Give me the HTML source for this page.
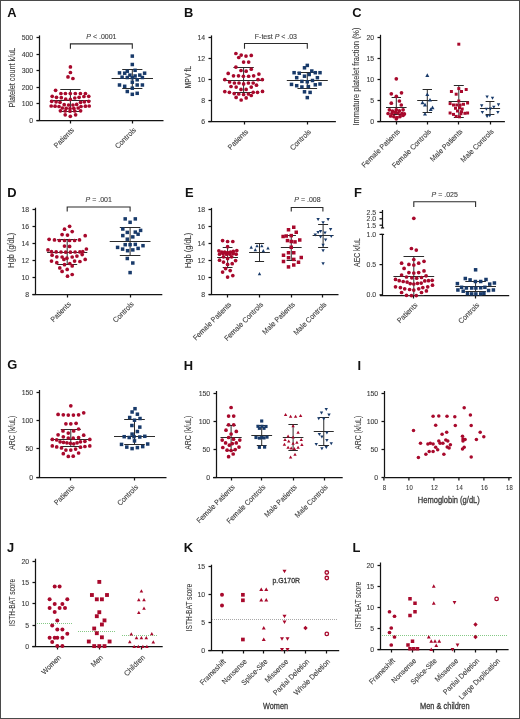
<!DOCTYPE html>
<html><head><meta charset="utf-8"><style>
html,body{margin:0;padding:0;background:#fff;}
body{width:520px;height:719px;overflow:hidden;}
svg{display:block;}
text{font-family:"Liberation Sans",sans-serif;}
.tk{fill:#3a3a3a;stroke:#3a3a3a;stroke-width:0.1px;}
.cd{stroke-width:0.32px;}
.let{font-weight:bold;font-size:12.9px;fill:#111;}
.ax{stroke:#121212;stroke-width:1.25;fill:none;}
.br{stroke:#2a2a2a;stroke-width:1.1;fill:none;}
.eb{stroke-width:1;fill:none;}
</style></head><body>
<svg width="520" height="719" viewBox="0 0 520 719">
<rect x="0.5" y="0.5" width="519" height="718" fill="#fff" stroke="#4a4a4a" stroke-width="1"/>
<g opacity="0.995"><text x="7.3" y="17.4" class="let">A</text>
<line x1="39.5" y1="35.4" x2="39.5" y2="120.1" class="ax"/>
<line x1="36.5" y1="120.5" x2="39.5" y2="120.5" class="ax"/>
<text x="33.2" y="122.5" class="tk" text-anchor="end" font-size="6.9">0</text>
<line x1="36.5" y1="103.5" x2="39.5" y2="103.5" class="ax"/>
<text x="33.2" y="106.05" class="tk" text-anchor="end" font-size="6.9">100</text>
<line x1="36.5" y1="87.5" x2="39.5" y2="87.5" class="ax"/>
<text x="33.2" y="89.6" class="tk" text-anchor="end" font-size="6.9">200</text>
<line x1="36.5" y1="70.5" x2="39.5" y2="70.5" class="ax"/>
<text x="33.2" y="73.15" class="tk" text-anchor="end" font-size="6.9">300</text>
<line x1="36.5" y1="54.5" x2="39.5" y2="54.5" class="ax"/>
<text x="33.2" y="56.7" class="tk" text-anchor="end" font-size="6.9">400</text>
<line x1="36.5" y1="37.5" x2="39.5" y2="37.5" class="ax"/>
<text x="33.2" y="40.25" class="tk" text-anchor="end" font-size="6.9">500</text>
<line x1="36.5" y1="120.5" x2="163.5" y2="120.5" class="ax"/>
<line x1="70.5" y1="120.5" x2="70.5" y2="123.5" class="ax"/>
<line x1="132.5" y1="120.5" x2="132.5" y2="123.5" class="ax"/>
<text transform="translate(74.6,130.5) rotate(-45)" text-anchor="end" class="tk" font-size="7.4" textLength="25.4" lengthAdjust="spacingAndGlyphs">Patients</text>
<text transform="translate(136.5,130.5) rotate(-45)" text-anchor="end" class="tk" font-size="7.4" textLength="26.18" lengthAdjust="spacingAndGlyphs">Controls</text>
<text transform="translate(15,77.6) rotate(-90)" text-anchor="middle" class="tk" font-size="8.2" textLength="60" lengthAdjust="spacingAndGlyphs">Platelet count k/uL</text>
<path d="M70.4 48.7V43.9H132.3V48.7" class="br"/>
<text x="101.4" y="38.8" text-anchor="middle" class="tk" font-size="7"><tspan font-style="italic">P</tspan> &lt; .0001</text>
<text x="184" y="17.4" class="let">B</text>
<line x1="211.5" y1="35.4" x2="211.5" y2="121.8" class="ax"/>
<line x1="208.5" y1="121.5" x2="211.5" y2="121.5" class="ax"/>
<text x="205.2" y="124.2" class="tk" text-anchor="end" font-size="6.9">6</text>
<line x1="208.5" y1="100.5" x2="211.5" y2="100.5" class="ax"/>
<text x="205.2" y="103.1" class="tk" text-anchor="end" font-size="6.9">8</text>
<line x1="208.5" y1="79.5" x2="211.5" y2="79.5" class="ax"/>
<text x="205.2" y="82" class="tk" text-anchor="end" font-size="6.9">10</text>
<line x1="208.5" y1="58.5" x2="211.5" y2="58.5" class="ax"/>
<text x="205.2" y="60.9" class="tk" text-anchor="end" font-size="6.9">12</text>
<line x1="208.5" y1="37.5" x2="211.5" y2="37.5" class="ax"/>
<text x="205.2" y="39.8" class="tk" text-anchor="end" font-size="6.9">14</text>
<line x1="208.3" y1="121.5" x2="335.9" y2="121.5" class="ax"/>
<line x1="244.5" y1="121.5" x2="244.5" y2="124.5" class="ax"/>
<line x1="307.5" y1="121.5" x2="307.5" y2="124.5" class="ax"/>
<text transform="translate(248.7,132.2) rotate(-45)" text-anchor="end" class="tk" font-size="7.4" textLength="25.4" lengthAdjust="spacingAndGlyphs">Patients</text>
<text transform="translate(311.5,132.2) rotate(-45)" text-anchor="end" class="tk" font-size="7.4" textLength="26.18" lengthAdjust="spacingAndGlyphs">Controls</text>
<text transform="translate(191.2,77.1) rotate(-90)" text-anchor="middle" class="tk" font-size="8.2" textLength="22.6" lengthAdjust="spacingAndGlyphs">MPV fL</text>
<path d="M244.5 48.8V43.5H307.3V48.8" class="br"/>
<text x="275.9" y="38.8" text-anchor="middle" class="tk" font-size="7">F-test <tspan font-style="italic">P</tspan> &lt; .03</text>
<text x="352.3" y="17.4" class="let">C</text>
<line x1="380.5" y1="34.8" x2="380.5" y2="121.6" class="ax"/>
<line x1="377.5" y1="121.5" x2="380.5" y2="121.5" class="ax"/>
<text x="374.2" y="124" class="tk" text-anchor="end" font-size="6.9">0</text>
<line x1="377.5" y1="100.5" x2="380.5" y2="100.5" class="ax"/>
<text x="374.2" y="102.92" class="tk" text-anchor="end" font-size="6.9">5</text>
<line x1="377.5" y1="79.5" x2="380.5" y2="79.5" class="ax"/>
<text x="374.2" y="81.85" class="tk" text-anchor="end" font-size="6.9">10</text>
<line x1="377.5" y1="58.5" x2="380.5" y2="58.5" class="ax"/>
<text x="374.2" y="60.77" class="tk" text-anchor="end" font-size="6.9">15</text>
<line x1="377.5" y1="37.5" x2="380.5" y2="37.5" class="ax"/>
<text x="374.2" y="39.7" class="tk" text-anchor="end" font-size="6.9">20</text>
<line x1="377.4" y1="121.5" x2="504.9" y2="121.5" class="ax"/>
<line x1="396.5" y1="121.5" x2="396.5" y2="124.5" class="ax"/>
<line x1="427.5" y1="121.5" x2="427.5" y2="124.5" class="ax"/>
<line x1="458.5" y1="121.5" x2="458.5" y2="124.5" class="ax"/>
<line x1="490.5" y1="121.5" x2="490.5" y2="124.5" class="ax"/>
<text transform="translate(400.5,132) rotate(-45)" text-anchor="end" class="tk" font-size="7.4" textLength="50.8" lengthAdjust="spacingAndGlyphs">Female Patients</text>
<text transform="translate(431.5,132) rotate(-45)" text-anchor="end" class="tk" font-size="7.4" textLength="51.57" lengthAdjust="spacingAndGlyphs">Female Controls</text>
<text transform="translate(463,132) rotate(-45)" text-anchor="end" class="tk" font-size="7.4" textLength="42.59" lengthAdjust="spacingAndGlyphs">Male Patients</text>
<text transform="translate(494.2,132) rotate(-45)" text-anchor="end" class="tk" font-size="7.4" textLength="43.37" lengthAdjust="spacingAndGlyphs">Male Controls</text>
<text transform="translate(359.2,76.5) rotate(-90)" text-anchor="middle" class="tk" font-size="8.2" textLength="98" lengthAdjust="spacingAndGlyphs">Immature platelet fraction (%)</text>
<text x="7.3" y="196.5" class="let">D</text>
<line x1="35.5" y1="207.7" x2="35.5" y2="294.2" class="ax"/>
<line x1="32.5" y1="294.5" x2="35.5" y2="294.5" class="ax"/>
<text x="29.2" y="296.6" class="tk" text-anchor="end" font-size="6.9">8</text>
<line x1="32.5" y1="277.5" x2="35.5" y2="277.5" class="ax"/>
<text x="29.2" y="279.66" class="tk" text-anchor="end" font-size="6.9">10</text>
<line x1="32.5" y1="260.5" x2="35.5" y2="260.5" class="ax"/>
<text x="29.2" y="262.72" class="tk" text-anchor="end" font-size="6.9">12</text>
<line x1="32.5" y1="243.5" x2="35.5" y2="243.5" class="ax"/>
<text x="29.2" y="245.78" class="tk" text-anchor="end" font-size="6.9">14</text>
<line x1="32.5" y1="226.5" x2="35.5" y2="226.5" class="ax"/>
<text x="29.2" y="228.84" class="tk" text-anchor="end" font-size="6.9">16</text>
<line x1="32.5" y1="209.5" x2="35.5" y2="209.5" class="ax"/>
<text x="29.2" y="211.9" class="tk" text-anchor="end" font-size="6.9">18</text>
<line x1="32.4" y1="294.5" x2="162.3" y2="294.5" class="ax"/>
<line x1="67.5" y1="294.5" x2="67.5" y2="297.5" class="ax"/>
<line x1="130.5" y1="294.5" x2="130.5" y2="297.5" class="ax"/>
<text transform="translate(71.4,304.6) rotate(-45)" text-anchor="end" class="tk" font-size="7.4" textLength="25.4" lengthAdjust="spacingAndGlyphs">Patients</text>
<text transform="translate(134.3,304.6) rotate(-45)" text-anchor="end" class="tk" font-size="7.4" textLength="26.18" lengthAdjust="spacingAndGlyphs">Controls</text>
<text transform="translate(14.4,250.2) rotate(-90)" text-anchor="middle" class="tk" font-size="8.2" textLength="35" lengthAdjust="spacingAndGlyphs">Hgb (g/dL)</text>
<path d="M67.2 211.5V207H130.1V211.5" class="br"/>
<text x="98.7" y="201.5" text-anchor="middle" class="tk" font-size="7"><tspan font-style="italic">P</tspan> = .001</text>
<text x="184.9" y="196.7" class="let">E</text>
<line x1="211.5" y1="207.9" x2="211.5" y2="294.5" class="ax"/>
<line x1="208.5" y1="294.5" x2="211.5" y2="294.5" class="ax"/>
<text x="205.2" y="296.9" class="tk" text-anchor="end" font-size="6.9">8</text>
<line x1="208.5" y1="277.5" x2="211.5" y2="277.5" class="ax"/>
<text x="205.2" y="279.94" class="tk" text-anchor="end" font-size="6.9">10</text>
<line x1="208.5" y1="260.5" x2="211.5" y2="260.5" class="ax"/>
<text x="205.2" y="262.98" class="tk" text-anchor="end" font-size="6.9">12</text>
<line x1="208.5" y1="243.5" x2="211.5" y2="243.5" class="ax"/>
<text x="205.2" y="246.02" class="tk" text-anchor="end" font-size="6.9">14</text>
<line x1="208.5" y1="226.5" x2="211.5" y2="226.5" class="ax"/>
<text x="205.2" y="229.06" class="tk" text-anchor="end" font-size="6.9">16</text>
<line x1="208.5" y1="209.5" x2="211.5" y2="209.5" class="ax"/>
<text x="205.2" y="212.1" class="tk" text-anchor="end" font-size="6.9">18</text>
<line x1="208.7" y1="294.5" x2="338.5" y2="294.5" class="ax"/>
<line x1="227.5" y1="294.5" x2="227.5" y2="297.5" class="ax"/>
<line x1="259.5" y1="294.5" x2="259.5" y2="297.5" class="ax"/>
<line x1="291.5" y1="294.5" x2="291.5" y2="297.5" class="ax"/>
<line x1="322.5" y1="294.5" x2="322.5" y2="297.5" class="ax"/>
<text transform="translate(231.8,304.9) rotate(-45)" text-anchor="end" class="tk" font-size="7.4" textLength="50.8" lengthAdjust="spacingAndGlyphs">Female Patients</text>
<text transform="translate(263.7,304.9) rotate(-45)" text-anchor="end" class="tk" font-size="7.4" textLength="51.57" lengthAdjust="spacingAndGlyphs">Female Controls</text>
<text transform="translate(295.45,304.9) rotate(-45)" text-anchor="end" class="tk" font-size="7.4" textLength="42.59" lengthAdjust="spacingAndGlyphs">Male Patients</text>
<text transform="translate(327.1,304.9) rotate(-45)" text-anchor="end" class="tk" font-size="7.4" textLength="43.37" lengthAdjust="spacingAndGlyphs">Male Controls</text>
<text transform="translate(191,250.4) rotate(-90)" text-anchor="middle" class="tk" font-size="8.2" textLength="35.3" lengthAdjust="spacingAndGlyphs">Hgb (g/dL)</text>
<path d="M291.25 211.5V207.5H322.9V211.5" class="br"/>
<text x="307.5" y="201.5" text-anchor="middle" class="tk" font-size="7"><tspan font-style="italic">P</tspan> = .008</text>
<text x="354" y="196.6" class="let">F</text>
<line x1="382.5" y1="210" x2="382.5" y2="227.9" class="ax"/>
<line x1="382.5" y1="234.4" x2="382.5" y2="295.4" class="ax"/>
<line x1="380.9" y1="227.9" x2="384.1" y2="227.9" class="ax"/>
<line x1="381.1" y1="234.4" x2="384.1" y2="234.4" class="ax"/>
<line x1="379.5" y1="212.4" x2="382.5" y2="212.4" class="ax"/>
<text x="376.2" y="214.8" class="tk" text-anchor="end" font-size="6.9">2.5</text>
<line x1="379.5" y1="218.8" x2="382.5" y2="218.8" class="ax"/>
<text x="376.2" y="221.2" class="tk" text-anchor="end" font-size="6.9">2.0</text>
<line x1="379.5" y1="225.2" x2="382.5" y2="225.2" class="ax"/>
<text x="376.2" y="227.6" class="tk" text-anchor="end" font-size="6.9">1.5</text>
<line x1="379.5" y1="234.4" x2="382.5" y2="234.4" class="ax"/>
<text x="376.2" y="236.8" class="tk" text-anchor="end" font-size="6.9">1.0</text>
<line x1="379.5" y1="264.6" x2="382.5" y2="264.6" class="ax"/>
<text x="376.2" y="267" class="tk" text-anchor="end" font-size="6.9">0.5</text>
<line x1="379.5" y1="294.8" x2="382.5" y2="294.8" class="ax"/>
<text x="376.2" y="297.2" class="tk" text-anchor="end" font-size="6.9">0.0</text>
<line x1="379.9" y1="295.5" x2="509.2" y2="295.5" class="ax"/>
<line x1="413.5" y1="295.5" x2="413.5" y2="298.5" class="ax"/>
<line x1="475.5" y1="295.5" x2="475.5" y2="298.5" class="ax"/>
<text transform="translate(418,305.6) rotate(-45)" text-anchor="end" class="tk" font-size="7.4" textLength="25.4" lengthAdjust="spacingAndGlyphs">Patients</text>
<text transform="translate(479.8,305.6) rotate(-45)" text-anchor="end" class="tk" font-size="7.4" textLength="26.18" lengthAdjust="spacingAndGlyphs">Controls</text>
<text transform="translate(360.3,252.5) rotate(-90)" text-anchor="middle" class="tk" font-size="8.2" textLength="28.8" lengthAdjust="spacingAndGlyphs">AEC k/uL</text>
<path d="M413.8 207V201.8H475.6V207" class="br"/>
<text x="444.7" y="197" text-anchor="middle" class="tk" font-size="7"><tspan font-style="italic">P</tspan> = .025</text>
<text x="7.3" y="369.4" class="let">G</text>
<line x1="39.5" y1="390" x2="39.5" y2="477.2" class="ax"/>
<line x1="36.5" y1="477.5" x2="39.5" y2="477.5" class="ax"/>
<text x="33.2" y="479.6" class="tk" text-anchor="end" font-size="6.9">0</text>
<line x1="36.5" y1="448.5" x2="39.5" y2="448.5" class="ax"/>
<text x="33.2" y="451.3" class="tk" text-anchor="end" font-size="6.9">50</text>
<line x1="36.5" y1="420.5" x2="39.5" y2="420.5" class="ax"/>
<text x="33.2" y="423" class="tk" text-anchor="end" font-size="6.9">100</text>
<line x1="36.5" y1="392.5" x2="39.5" y2="392.5" class="ax"/>
<text x="33.2" y="394.7" class="tk" text-anchor="end" font-size="6.9">150</text>
<line x1="36.4" y1="477.5" x2="166.5" y2="477.5" class="ax"/>
<line x1="70.5" y1="477.5" x2="70.5" y2="480.5" class="ax"/>
<line x1="134.5" y1="477.5" x2="134.5" y2="480.5" class="ax"/>
<text transform="translate(75,487.6) rotate(-45)" text-anchor="end" class="tk" font-size="7.4" textLength="25.4" lengthAdjust="spacingAndGlyphs">Patients</text>
<text transform="translate(138.7,487.6) rotate(-45)" text-anchor="end" class="tk" font-size="7.4" textLength="26.18" lengthAdjust="spacingAndGlyphs">Controls</text>
<text transform="translate(15.3,432.8) rotate(-90)" text-anchor="middle" class="tk" font-size="8.2" textLength="34" lengthAdjust="spacingAndGlyphs">ARC (k/uL)</text>
<text x="183.7" y="369.5" class="let">H</text>
<line x1="216.5" y1="391" x2="216.5" y2="477.2" class="ax"/>
<line x1="213.5" y1="477.5" x2="216.5" y2="477.5" class="ax"/>
<text x="210.2" y="479.6" class="tk" text-anchor="end" font-size="6.9">0</text>
<line x1="213.5" y1="449.5" x2="216.5" y2="449.5" class="ax"/>
<text x="210.2" y="451.57" class="tk" text-anchor="end" font-size="6.9">50</text>
<line x1="213.5" y1="421.5" x2="216.5" y2="421.5" class="ax"/>
<text x="210.2" y="423.53" class="tk" text-anchor="end" font-size="6.9">100</text>
<line x1="213.5" y1="393.5" x2="216.5" y2="393.5" class="ax"/>
<text x="210.2" y="395.5" class="tk" text-anchor="end" font-size="6.9">150</text>
<line x1="213" y1="477.5" x2="342.7" y2="477.5" class="ax"/>
<line x1="231.5" y1="477.5" x2="231.5" y2="480.5" class="ax"/>
<line x1="261.5" y1="477.5" x2="261.5" y2="480.5" class="ax"/>
<line x1="293.5" y1="477.5" x2="293.5" y2="480.5" class="ax"/>
<line x1="324.5" y1="477.5" x2="324.5" y2="480.5" class="ax"/>
<text transform="translate(235.3,487.6) rotate(-45)" text-anchor="end" class="tk" font-size="7.4" textLength="50.8" lengthAdjust="spacingAndGlyphs">Female Patients</text>
<text transform="translate(265.9,487.6) rotate(-45)" text-anchor="end" class="tk" font-size="7.4" textLength="51.57" lengthAdjust="spacingAndGlyphs">Female Controls</text>
<text transform="translate(297.3,487.6) rotate(-45)" text-anchor="end" class="tk" font-size="7.4" textLength="42.59" lengthAdjust="spacingAndGlyphs">Male Patients</text>
<text transform="translate(328.3,487.6) rotate(-45)" text-anchor="end" class="tk" font-size="7.4" textLength="43.37" lengthAdjust="spacingAndGlyphs">Male Controls</text>
<text transform="translate(191.4,432.8) rotate(-90)" text-anchor="middle" class="tk" font-size="8.2" textLength="34" lengthAdjust="spacingAndGlyphs">ARC (k/uL)</text>
<text x="357.4" y="369.5" class="let">I</text>
<line x1="384.5" y1="391" x2="384.5" y2="477.2" class="ax"/>
<line x1="381.5" y1="477.5" x2="384.5" y2="477.5" class="ax"/>
<text x="378.2" y="479.6" class="tk" text-anchor="end" font-size="6.9">0</text>
<line x1="381.5" y1="449.5" x2="384.5" y2="449.5" class="ax"/>
<text x="378.2" y="451.57" class="tk" text-anchor="end" font-size="6.9">50</text>
<line x1="381.5" y1="421.5" x2="384.5" y2="421.5" class="ax"/>
<text x="378.2" y="423.53" class="tk" text-anchor="end" font-size="6.9">100</text>
<line x1="381.5" y1="393.5" x2="384.5" y2="393.5" class="ax"/>
<text x="378.2" y="395.5" class="tk" text-anchor="end" font-size="6.9">150</text>
<line x1="384.5" y1="477.5" x2="511.8" y2="477.5" class="ax"/>
<line x1="383.9" y1="477.5" x2="383.9" y2="480.5" class="ax"/>
<text x="384.4" y="489.6" class="tk" text-anchor="middle" font-size="6.6" textLength="3.4" lengthAdjust="spacingAndGlyphs">8</text>
<line x1="408.9" y1="477.5" x2="408.9" y2="480.5" class="ax"/>
<text x="409.4" y="489.6" class="tk" text-anchor="middle" font-size="6.6" textLength="6.6" lengthAdjust="spacingAndGlyphs">10</text>
<line x1="433.9" y1="477.5" x2="433.9" y2="480.5" class="ax"/>
<text x="434.4" y="489.6" class="tk" text-anchor="middle" font-size="6.6" textLength="6.6" lengthAdjust="spacingAndGlyphs">12</text>
<line x1="458.9" y1="477.5" x2="458.9" y2="480.5" class="ax"/>
<text x="459.4" y="489.6" class="tk" text-anchor="middle" font-size="6.6" textLength="6.6" lengthAdjust="spacingAndGlyphs">14</text>
<line x1="483.9" y1="477.5" x2="483.9" y2="480.5" class="ax"/>
<text x="484.4" y="489.6" class="tk" text-anchor="middle" font-size="6.6" textLength="6.6" lengthAdjust="spacingAndGlyphs">16</text>
<line x1="508.9" y1="477.5" x2="508.9" y2="480.5" class="ax"/>
<text x="509.4" y="489.6" class="tk" text-anchor="middle" font-size="6.6" textLength="6.6" lengthAdjust="spacingAndGlyphs">18</text>
<text x="448.8" y="503.2" class="tk cd" text-anchor="middle" font-size="9.4" textLength="62" lengthAdjust="spacingAndGlyphs">Hemoglobin (g/dL)</text>
<text transform="translate(360.5,432.8) rotate(-90)" text-anchor="middle" class="tk" font-size="8.2" textLength="34" lengthAdjust="spacingAndGlyphs">ARC (k/uL)</text>
<text x="7" y="552" class="let">J</text>
<line x1="35.5" y1="558.7" x2="35.5" y2="646.4" class="ax"/>
<line x1="32.5" y1="646.5" x2="35.5" y2="646.5" class="ax"/>
<text x="29.2" y="648.8" class="tk" text-anchor="end" font-size="6.9">0</text>
<line x1="32.5" y1="625.5" x2="35.5" y2="625.5" class="ax"/>
<text x="29.2" y="627.52" class="tk" text-anchor="end" font-size="6.9">5</text>
<line x1="32.5" y1="603.5" x2="35.5" y2="603.5" class="ax"/>
<text x="29.2" y="606.25" class="tk" text-anchor="end" font-size="6.9">10</text>
<line x1="32.5" y1="582.5" x2="35.5" y2="582.5" class="ax"/>
<text x="29.2" y="584.97" class="tk" text-anchor="end" font-size="6.9">15</text>
<line x1="32.5" y1="561.5" x2="35.5" y2="561.5" class="ax"/>
<text x="29.2" y="563.7" class="tk" text-anchor="end" font-size="6.9">20</text>
<line x1="32.2" y1="646.5" x2="162.7" y2="646.5" class="ax"/>
<line x1="57.5" y1="646.5" x2="57.5" y2="649.5" class="ax"/>
<line x1="99.5" y1="646.5" x2="99.5" y2="649.5" class="ax"/>
<line x1="141.5" y1="646.5" x2="141.5" y2="649.5" class="ax"/>
<text transform="translate(61.5,657.9) rotate(-45)" text-anchor="end" class="tk" font-size="7.4" textLength="24.09" lengthAdjust="spacingAndGlyphs">Women</text>
<text transform="translate(103.5,657.9) rotate(-45)" text-anchor="end" class="tk" font-size="7.4" textLength="13.68" lengthAdjust="spacingAndGlyphs">Men</text>
<text transform="translate(145.4,657.9) rotate(-45)" text-anchor="end" class="tk" font-size="7.4" textLength="26.18" lengthAdjust="spacingAndGlyphs">Children</text>
<text transform="translate(15.3,602.4) rotate(-90)" text-anchor="middle" class="tk" font-size="8.2" textLength="47.2" lengthAdjust="spacingAndGlyphs">ISTH-BAT score</text>
<text x="183.7" y="552" class="let">K</text>
<line x1="211.5" y1="564.7" x2="211.5" y2="650.5" class="ax"/>
<line x1="208.5" y1="650.5" x2="211.5" y2="650.5" class="ax"/>
<text x="205.2" y="652.9" class="tk" text-anchor="end" font-size="6.9">0</text>
<line x1="208.5" y1="622.5" x2="211.5" y2="622.5" class="ax"/>
<text x="205.2" y="624.93" class="tk" text-anchor="end" font-size="6.9">5</text>
<line x1="208.5" y1="594.5" x2="211.5" y2="594.5" class="ax"/>
<text x="205.2" y="596.97" class="tk" text-anchor="end" font-size="6.9">10</text>
<line x1="208.5" y1="566.5" x2="211.5" y2="566.5" class="ax"/>
<text x="205.2" y="569" class="tk" text-anchor="end" font-size="6.9">15</text>
<line x1="208.3" y1="650.5" x2="339.2" y2="650.5" class="ax"/>
<line x1="222.5" y1="650.5" x2="222.5" y2="653.5" class="ax"/>
<line x1="243.5" y1="650.5" x2="243.5" y2="653.5" class="ax"/>
<line x1="263.5" y1="650.5" x2="263.5" y2="653.5" class="ax"/>
<line x1="284.5" y1="650.5" x2="284.5" y2="653.5" class="ax"/>
<line x1="305.5" y1="650.5" x2="305.5" y2="653.5" class="ax"/>
<line x1="326.5" y1="650.5" x2="326.5" y2="653.5" class="ax"/>
<text transform="translate(226.2,662.1) rotate(-45)" text-anchor="end" class="tk" font-size="7.4" textLength="33.2" lengthAdjust="spacingAndGlyphs">Frameshift</text>
<text transform="translate(247.2,662.1) rotate(-45)" text-anchor="end" class="tk" font-size="7.4" textLength="31.66" lengthAdjust="spacingAndGlyphs">Nonsense</text>
<text transform="translate(267.95,662.1) rotate(-45)" text-anchor="end" class="tk" font-size="7.4" textLength="33.6" lengthAdjust="spacingAndGlyphs">Splice-Site</text>
<text transform="translate(288.7,662.1) rotate(-45)" text-anchor="end" class="tk" font-size="7.4" textLength="29.69" lengthAdjust="spacingAndGlyphs">Missense</text>
<text transform="translate(309.7,662.1) rotate(-45)" text-anchor="end" class="tk" font-size="7.4" textLength="47.67" lengthAdjust="spacingAndGlyphs">Partial Deletion</text>
<text transform="translate(330.5,662.1) rotate(-45)" text-anchor="end" class="tk" font-size="7.4" textLength="47.67" lengthAdjust="spacingAndGlyphs">Whole Deletion</text>
<text transform="translate(192.3,607.5) rotate(-90)" text-anchor="middle" class="tk" font-size="8.2" textLength="47.5" lengthAdjust="spacingAndGlyphs">ISTH-BAT score</text>
<text x="275.5" y="709.2" class="tk cd" text-anchor="middle" font-size="9.4" textLength="25" lengthAdjust="spacingAndGlyphs">Women</text>
<text x="286.2" y="582.5" class="tk cd" text-anchor="middle" font-size="7.5" textLength="27.5" lengthAdjust="spacingAndGlyphs">p.G170R</text>
<text x="352.6" y="552.2" class="let">L</text>
<line x1="380.5" y1="562.5" x2="380.5" y2="649.6" class="ax"/>
<line x1="377.5" y1="649.5" x2="380.5" y2="649.5" class="ax"/>
<text x="374.2" y="652" class="tk" text-anchor="end" font-size="6.9">0</text>
<line x1="377.5" y1="628.5" x2="380.5" y2="628.5" class="ax"/>
<text x="374.2" y="630.92" class="tk" text-anchor="end" font-size="6.9">5</text>
<line x1="377.5" y1="607.5" x2="380.5" y2="607.5" class="ax"/>
<text x="374.2" y="609.85" class="tk" text-anchor="end" font-size="6.9">10</text>
<line x1="377.5" y1="586.5" x2="380.5" y2="586.5" class="ax"/>
<text x="374.2" y="588.77" class="tk" text-anchor="end" font-size="6.9">15</text>
<line x1="377.5" y1="565.5" x2="380.5" y2="565.5" class="ax"/>
<text x="374.2" y="567.7" class="tk" text-anchor="end" font-size="6.9">20</text>
<line x1="377.6" y1="649.5" x2="508.6" y2="649.5" class="ax"/>
<line x1="391.5" y1="649.5" x2="391.5" y2="652.5" class="ax"/>
<line x1="412.5" y1="649.5" x2="412.5" y2="652.5" class="ax"/>
<line x1="433.5" y1="649.5" x2="433.5" y2="652.5" class="ax"/>
<line x1="454.5" y1="649.5" x2="454.5" y2="652.5" class="ax"/>
<line x1="475.5" y1="649.5" x2="475.5" y2="652.5" class="ax"/>
<line x1="496.5" y1="649.5" x2="496.5" y2="652.5" class="ax"/>
<text transform="translate(395.45,661.2) rotate(-45)" text-anchor="end" class="tk" font-size="7.4" textLength="33.2" lengthAdjust="spacingAndGlyphs">Frameshift</text>
<text transform="translate(416.7,661.2) rotate(-45)" text-anchor="end" class="tk" font-size="7.4" textLength="31.66" lengthAdjust="spacingAndGlyphs">Nonsense</text>
<text transform="translate(437.2,661.2) rotate(-45)" text-anchor="end" class="tk" font-size="7.4" textLength="33.6" lengthAdjust="spacingAndGlyphs">Splice-Site</text>
<text transform="translate(458.7,661.2) rotate(-45)" text-anchor="end" class="tk" font-size="7.4" textLength="29.69" lengthAdjust="spacingAndGlyphs">Missense</text>
<text transform="translate(479.7,661.2) rotate(-45)" text-anchor="end" class="tk" font-size="7.4" textLength="47.67" lengthAdjust="spacingAndGlyphs">Partial Deletion</text>
<text transform="translate(500.5,661.2) rotate(-45)" text-anchor="end" class="tk" font-size="7.4" textLength="54.71" lengthAdjust="spacingAndGlyphs">Large Duplication</text>
<text transform="translate(360.5,605.6) rotate(-90)" text-anchor="middle" class="tk" font-size="8.2" textLength="47.6" lengthAdjust="spacingAndGlyphs">ISTH-BAT score</text>
<text x="444.8" y="709.2" class="tk cd" text-anchor="middle" font-size="9.4" textLength="49.5" lengthAdjust="spacingAndGlyphs">Men &amp; children</text>
<path d="M50.4 100.5H90.4M60.3 89.5H80.5M60.3 111.5H80.5M70.4 89.5V111.5" class="eb" stroke="#2a2a2a"/>
<path d="M111.6 78.5H153M122.2 69.5H142.4M122.2 88.5H142.4M132.3 69.5V88.5" class="eb" stroke="#2a2a2a"/>
<path d="M223.4 80.5H263.8M233.4 67.5H253.8M233.4 92.5H253.8M243.6 67.5V92.5" class="eb" stroke="#2a2a2a"/>
<path d="M286.8 80.5H327.8M297.5 72.5H317.1M297.5 88.5H317.1M307.3 72.5V88.5" class="eb" stroke="#2a2a2a"/>
<path d="M386 107.5H406.6M391.6 97.5H401M391.6 114.5H401M396.3 97.5V114.5" class="eb" stroke="#2a2a2a"/>
<path d="M417.2 100.5H437.4M422.6 89.5H432M422.6 112.5H432M427.3 89.5V112.5" class="eb" stroke="#2a2a2a"/>
<path d="M448.7 101.5H468.9M453.8 85.5H463.8M453.8 117.5H463.8M458.8 85.5V117.5" class="eb" stroke="#2a2a2a"/>
<path d="M479.9 108.5H500.1M485.6 101.5H494.4M485.6 114.5H494.4M490 101.5V114.5" class="eb" stroke="#2a2a2a"/>
<path d="M47.1 252.5H87.3M57.2 239.5H77.2M57.2 264.5H77.2M67.2 239.5V264.5" class="eb" stroke="#2a2a2a"/>
<path d="M109.7 241.5H150.5M119.8 227.5H140.4M119.8 255.5H140.4M130.1 227.5V255.5" class="eb" stroke="#2a2a2a"/>
<path d="M217.2 257.5H238M222.7 247.5H232.5M222.7 267.5H232.5M227.6 247.5V267.5" class="eb" stroke="#2a2a2a"/>
<path d="M249.1 252.5H269.9M254.9 243.5H264.1M254.9 261.5H264.1M259.5 243.5V261.5" class="eb" stroke="#2a2a2a"/>
<path d="M280.85 247.5H301.65M286.55 235.5H295.95M286.55 260.5H295.95M291.25 235.5V260.5" class="eb" stroke="#2a2a2a"/>
<path d="M312.6 235.5H333.6M318.1 224.5H328.1M318.1 247.5H328.1M323.1 224.5V247.5" class="eb" stroke="#2a2a2a"/>
<path d="M393.4 276.5H434.2M403.5 256.5H424.1M403.5 295.5H424.1M413.8 256.5V295.5" class="eb" stroke="#2a2a2a"/>
<path d="M455.2 286.5H496M465.3 281.5H485.9M465.3 291.5H485.9M475.6 281.5V291.5" class="eb" stroke="#2a2a2a"/>
<path d="M50.6 439.5H91M60.8 429.5H80.8M60.8 446.5H80.8M70.8 429.5V446.5" class="eb" stroke="#2a2a2a"/>
<path d="M114 436.5H155M124.2 419.5H144.8M124.2 444.5H144.8M134.5 419.5V444.5" class="eb" stroke="#2a2a2a"/>
<path d="M220.5 437.5H241.7M226.4 425.5H235.8M226.4 450.5H235.8M231.1 425.5V450.5" class="eb" stroke="#2a2a2a"/>
<path d="M251.3 435.5H272.1M256.8 425.5H266.6M256.8 445.5H266.6M261.7 425.5V445.5" class="eb" stroke="#2a2a2a"/>
<path d="M282.8 437.5H303.4M288.4 424.5H297.8M288.4 450.5H297.8M293.1 424.5V450.5" class="eb" stroke="#2a2a2a"/>
<path d="M313.75 431.5H333.75M318.45 417.5H329.05M318.45 445.5H329.05M323.75 417.5V445.5" class="eb" stroke="#2a2a2a"/>
<line x1="37" y1="623.5" x2="72.7" y2="623.5" stroke="#86c986" stroke-width="1" stroke-dasharray="1 1"/>
<line x1="78" y1="631.5" x2="116" y2="631.5" stroke="#86c986" stroke-width="1" stroke-dasharray="1 1"/>
<line x1="122" y1="635.5" x2="157.9" y2="635.5" stroke="#86c986" stroke-width="1" stroke-dasharray="1 1"/>
<line x1="212" y1="619.5" x2="337.6" y2="619.5" stroke="#a8a8a8" stroke-width="1" stroke-dasharray="1 1"/>
<line x1="382" y1="635.5" x2="507.5" y2="635.5" stroke="#86c986" stroke-width="1" stroke-dasharray="1 1"/></g>
<circle cx="70.4" cy="66.9" r="1.85" fill="#a8092c"/>
<circle cx="70.4" cy="72.5" r="1.85" fill="#a8092c"/>
<circle cx="68" cy="76.9" r="1.85" fill="#a8092c"/>
<circle cx="72.9" cy="78.5" r="1.85" fill="#a8092c"/>
<circle cx="55.6" cy="90.3" r="1.85" fill="#a8092c"/>
<circle cx="60.9" cy="93.5" r="1.85" fill="#a8092c"/>
<circle cx="65.4" cy="93.5" r="1.85" fill="#a8092c"/>
<circle cx="70.3" cy="93.5" r="1.85" fill="#a8092c"/>
<circle cx="75.3" cy="93.5" r="1.85" fill="#a8092c"/>
<circle cx="80.4" cy="93.5" r="1.85" fill="#a8092c"/>
<circle cx="85.4" cy="93.5" r="1.85" fill="#a8092c"/>
<circle cx="52.2" cy="96.3" r="1.85" fill="#a8092c"/>
<circle cx="56.5" cy="97.3" r="1.85" fill="#a8092c"/>
<circle cx="61.3" cy="97.7" r="1.85" fill="#a8092c"/>
<circle cx="65.7" cy="99.2" r="1.85" fill="#a8092c"/>
<circle cx="70.3" cy="99.4" r="1.85" fill="#a8092c"/>
<circle cx="74.8" cy="98" r="1.85" fill="#a8092c"/>
<circle cx="79.1" cy="97.3" r="1.85" fill="#a8092c"/>
<circle cx="83.9" cy="96.5" r="1.85" fill="#a8092c"/>
<circle cx="88.75" cy="96.3" r="1.85" fill="#a8092c"/>
<circle cx="51.7" cy="101.3" r="1.85" fill="#a8092c"/>
<circle cx="56.1" cy="101.8" r="1.85" fill="#a8092c"/>
<circle cx="60" cy="102.3" r="1.85" fill="#a8092c"/>
<circle cx="80.6" cy="102.3" r="1.85" fill="#a8092c"/>
<circle cx="84.4" cy="101.8" r="1.85" fill="#a8092c"/>
<circle cx="88.75" cy="101.3" r="1.85" fill="#a8092c"/>
<circle cx="64.2" cy="104.7" r="1.85" fill="#a8092c"/>
<circle cx="68.6" cy="105" r="1.85" fill="#a8092c"/>
<circle cx="72.9" cy="105" r="1.85" fill="#a8092c"/>
<circle cx="76.7" cy="104.4" r="1.85" fill="#a8092c"/>
<circle cx="51.2" cy="106" r="1.85" fill="#a8092c"/>
<circle cx="55.1" cy="106.2" r="1.85" fill="#a8092c"/>
<circle cx="59" cy="106.5" r="1.85" fill="#a8092c"/>
<circle cx="81" cy="106.5" r="1.85" fill="#a8092c"/>
<circle cx="85.4" cy="106.2" r="1.85" fill="#a8092c"/>
<circle cx="89.2" cy="106" r="1.85" fill="#a8092c"/>
<circle cx="62.3" cy="108" r="1.85" fill="#a8092c"/>
<circle cx="66.2" cy="108.3" r="1.85" fill="#a8092c"/>
<circle cx="70" cy="108.5" r="1.85" fill="#a8092c"/>
<circle cx="73.8" cy="108.3" r="1.85" fill="#a8092c"/>
<circle cx="78.2" cy="108" r="1.85" fill="#a8092c"/>
<circle cx="60.4" cy="110.8" r="1.85" fill="#a8092c"/>
<circle cx="65.2" cy="111" r="1.85" fill="#a8092c"/>
<circle cx="70" cy="111.2" r="1.85" fill="#a8092c"/>
<circle cx="74.8" cy="111" r="1.85" fill="#a8092c"/>
<circle cx="80.6" cy="110.8" r="1.85" fill="#a8092c"/>
<circle cx="65.2" cy="114.8" r="1.85" fill="#a8092c"/>
<circle cx="75.6" cy="114.8" r="1.85" fill="#a8092c"/>
<circle cx="70.3" cy="116.3" r="1.85" fill="#a8092c"/>
<rect x="130.55" y="54.35" width="3.5" height="3.5" fill="#183a6a"/>
<rect x="130.55" y="62.75" width="3.5" height="3.5" fill="#183a6a"/>
<rect x="133.35" y="68.55" width="3.5" height="3.5" fill="#183a6a"/>
<rect x="125.55" y="69.45" width="3.5" height="3.5" fill="#183a6a"/>
<rect x="117.75" y="71.15" width="3.5" height="3.5" fill="#183a6a"/>
<rect x="122.95" y="71.45" width="3.5" height="3.5" fill="#183a6a"/>
<rect x="142.85" y="71.45" width="3.5" height="3.5" fill="#183a6a"/>
<rect x="128.15" y="73.35" width="3.5" height="3.5" fill="#183a6a"/>
<rect x="133.35" y="74.25" width="3.5" height="3.5" fill="#183a6a"/>
<rect x="138.05" y="73.35" width="3.5" height="3.5" fill="#183a6a"/>
<rect x="120.35" y="75.45" width="3.5" height="3.5" fill="#183a6a"/>
<rect x="125.55" y="75.75" width="3.5" height="3.5" fill="#183a6a"/>
<rect x="130.55" y="75.95" width="3.5" height="3.5" fill="#183a6a"/>
<rect x="140.65" y="75.75" width="3.5" height="3.5" fill="#183a6a"/>
<rect x="135.45" y="78.05" width="3.5" height="3.5" fill="#183a6a"/>
<rect x="130.55" y="80.45" width="3.5" height="3.5" fill="#183a6a"/>
<rect x="117.75" y="83.25" width="3.5" height="3.5" fill="#183a6a"/>
<rect x="135.45" y="83.25" width="3.5" height="3.5" fill="#183a6a"/>
<rect x="140.65" y="83.25" width="3.5" height="3.5" fill="#183a6a"/>
<rect x="122.95" y="84.55" width="3.5" height="3.5" fill="#183a6a"/>
<rect x="130.55" y="86.45" width="3.5" height="3.5" fill="#183a6a"/>
<rect x="125.55" y="89.75" width="3.5" height="3.5" fill="#183a6a"/>
<rect x="130.55" y="92.55" width="3.5" height="3.5" fill="#183a6a"/>
<rect x="135.45" y="91.55" width="3.5" height="3.5" fill="#183a6a"/>
<circle cx="235.9" cy="53.5" r="1.85" fill="#a8092c"/>
<circle cx="241.2" cy="55.1" r="1.85" fill="#a8092c"/>
<circle cx="238.75" cy="57.5" r="1.85" fill="#a8092c"/>
<circle cx="246" cy="56.1" r="1.85" fill="#a8092c"/>
<circle cx="251.25" cy="55.4" r="1.85" fill="#a8092c"/>
<circle cx="243.6" cy="62.1" r="1.85" fill="#a8092c"/>
<circle cx="248.65" cy="62.1" r="1.85" fill="#a8092c"/>
<circle cx="235.9" cy="67.1" r="1.85" fill="#a8092c"/>
<circle cx="251.25" cy="69.2" r="1.85" fill="#a8092c"/>
<circle cx="241" cy="70.5" r="1.85" fill="#a8092c"/>
<circle cx="246.15" cy="71.2" r="1.85" fill="#a8092c"/>
<circle cx="228.2" cy="73.4" r="1.85" fill="#a8092c"/>
<circle cx="258.9" cy="74.1" r="1.85" fill="#a8092c"/>
<circle cx="233.5" cy="75.8" r="1.85" fill="#a8092c"/>
<circle cx="238.5" cy="75.8" r="1.85" fill="#a8092c"/>
<circle cx="243.4" cy="76.25" r="1.85" fill="#a8092c"/>
<circle cx="248.65" cy="76.25" r="1.85" fill="#a8092c"/>
<circle cx="253.65" cy="75.8" r="1.85" fill="#a8092c"/>
<circle cx="224.8" cy="79.6" r="1.85" fill="#a8092c"/>
<circle cx="258" cy="79.6" r="1.85" fill="#a8092c"/>
<circle cx="262.3" cy="79.6" r="1.85" fill="#a8092c"/>
<circle cx="229.6" cy="82" r="1.85" fill="#a8092c"/>
<circle cx="234.4" cy="83" r="1.85" fill="#a8092c"/>
<circle cx="239" cy="83" r="1.85" fill="#a8092c"/>
<circle cx="243.6" cy="83.9" r="1.85" fill="#a8092c"/>
<circle cx="248.4" cy="83" r="1.85" fill="#a8092c"/>
<circle cx="253.2" cy="83" r="1.85" fill="#a8092c"/>
<circle cx="256.5" cy="85.2" r="1.85" fill="#a8092c"/>
<circle cx="231" cy="86.5" r="1.85" fill="#a8092c"/>
<circle cx="236.15" cy="87.1" r="1.85" fill="#a8092c"/>
<circle cx="251.25" cy="87.1" r="1.85" fill="#a8092c"/>
<circle cx="241" cy="89.4" r="1.85" fill="#a8092c"/>
<circle cx="246.15" cy="89.4" r="1.85" fill="#a8092c"/>
<circle cx="224.8" cy="91.6" r="1.85" fill="#a8092c"/>
<circle cx="229.4" cy="92.3" r="1.85" fill="#a8092c"/>
<circle cx="234.2" cy="93.6" r="1.85" fill="#a8092c"/>
<circle cx="238.75" cy="94" r="1.85" fill="#a8092c"/>
<circle cx="243.6" cy="94.5" r="1.85" fill="#a8092c"/>
<circle cx="248.4" cy="94" r="1.85" fill="#a8092c"/>
<circle cx="253.2" cy="92.3" r="1.85" fill="#a8092c"/>
<circle cx="257.5" cy="92.3" r="1.85" fill="#a8092c"/>
<circle cx="262.5" cy="91.4" r="1.85" fill="#a8092c"/>
<circle cx="251.25" cy="95.5" r="1.85" fill="#a8092c"/>
<circle cx="236.15" cy="97.4" r="1.85" fill="#a8092c"/>
<circle cx="246.15" cy="97.9" r="1.85" fill="#a8092c"/>
<circle cx="241.15" cy="100" r="1.85" fill="#a8092c"/>
<rect x="305.55" y="63.65" width="3.5" height="3.5" fill="#183a6a"/>
<rect x="302.75" y="66.05" width="3.5" height="3.5" fill="#183a6a"/>
<rect x="292.35" y="70.95" width="3.5" height="3.5" fill="#183a6a"/>
<rect x="297.55" y="71.45" width="3.5" height="3.5" fill="#183a6a"/>
<rect x="310.05" y="69.25" width="3.5" height="3.5" fill="#183a6a"/>
<rect x="313.55" y="70.95" width="3.5" height="3.5" fill="#183a6a"/>
<rect x="318.25" y="70.95" width="3.5" height="3.5" fill="#183a6a"/>
<rect x="307.45" y="72.75" width="3.5" height="3.5" fill="#183a6a"/>
<rect x="302.75" y="74.45" width="3.5" height="3.5" fill="#183a6a"/>
<rect x="294.95" y="75.95" width="3.5" height="3.5" fill="#183a6a"/>
<rect x="315.65" y="75.95" width="3.5" height="3.5" fill="#183a6a"/>
<rect x="300.15" y="79.65" width="3.5" height="3.5" fill="#183a6a"/>
<rect x="305.55" y="80.05" width="3.5" height="3.5" fill="#183a6a"/>
<rect x="310.75" y="78.75" width="3.5" height="3.5" fill="#183a6a"/>
<rect x="289.75" y="82.65" width="3.5" height="3.5" fill="#183a6a"/>
<rect x="294.95" y="83.95" width="3.5" height="3.5" fill="#183a6a"/>
<rect x="300.15" y="85.25" width="3.5" height="3.5" fill="#183a6a"/>
<rect x="306.65" y="84.85" width="3.5" height="3.5" fill="#183a6a"/>
<rect x="313.55" y="83.05" width="3.5" height="3.5" fill="#183a6a"/>
<rect x="318.25" y="82.25" width="3.5" height="3.5" fill="#183a6a"/>
<rect x="302.75" y="90.05" width="3.5" height="3.5" fill="#183a6a"/>
<rect x="308.35" y="90.65" width="3.5" height="3.5" fill="#183a6a"/>
<rect x="305.55" y="95.85" width="3.5" height="3.5" fill="#183a6a"/>
<circle cx="396.3" cy="78.8" r="1.85" fill="#a8092c"/>
<circle cx="391.3" cy="93.8" r="1.85" fill="#a8092c"/>
<circle cx="401.5" cy="92.8" r="1.85" fill="#a8092c"/>
<circle cx="396.3" cy="96.3" r="1.85" fill="#a8092c"/>
<circle cx="399.4" cy="101" r="1.85" fill="#a8092c"/>
<circle cx="391.3" cy="103.2" r="1.85" fill="#a8092c"/>
<circle cx="401.3" cy="105" r="1.85" fill="#a8092c"/>
<circle cx="389.4" cy="109.8" r="1.85" fill="#a8092c"/>
<circle cx="392.5" cy="111" r="1.85" fill="#a8092c"/>
<circle cx="396.3" cy="109.8" r="1.85" fill="#a8092c"/>
<circle cx="399.4" cy="110.8" r="1.85" fill="#a8092c"/>
<circle cx="403.1" cy="109.8" r="1.85" fill="#a8092c"/>
<circle cx="388.1" cy="113.5" r="1.85" fill="#a8092c"/>
<circle cx="391.9" cy="113.5" r="1.85" fill="#a8092c"/>
<circle cx="395" cy="112.3" r="1.85" fill="#a8092c"/>
<circle cx="398.1" cy="113" r="1.85" fill="#a8092c"/>
<circle cx="401.9" cy="113.5" r="1.85" fill="#a8092c"/>
<circle cx="404.4" cy="113.9" r="1.85" fill="#a8092c"/>
<circle cx="390.6" cy="116" r="1.85" fill="#a8092c"/>
<circle cx="393.8" cy="116.6" r="1.85" fill="#a8092c"/>
<circle cx="396.9" cy="117.6" r="1.85" fill="#a8092c"/>
<circle cx="400" cy="116.6" r="1.85" fill="#a8092c"/>
<circle cx="403.1" cy="115.3" r="1.85" fill="#a8092c"/>
<circle cx="396.3" cy="118.8" r="1.85" fill="#a8092c"/>
<path d="M427.3 73.3L429.3 76.9L425.3 76.9Z" fill="#183a6a"/>
<path d="M427.3 92.4L429.3 96L425.3 96Z" fill="#183a6a"/>
<path d="M422.5 100.6L424.5 104.2L420.5 104.2Z" fill="#183a6a"/>
<path d="M430 98L432 101.6L428 101.6Z" fill="#183a6a"/>
<path d="M425 102.8L427 106.4L423 106.4Z" fill="#183a6a"/>
<path d="M432.5 105.6L434.5 109.2L430.5 109.2Z" fill="#183a6a"/>
<path d="M430.7 107.5L432.7 111.1L428.7 111.1Z" fill="#183a6a"/>
<path d="M425 112L427 115.6L423 115.6Z" fill="#183a6a"/>
<rect x="457.31" y="42.71" width="2.98" height="2.98" fill="#a8092c"/>
<rect x="457.31" y="87.11" width="2.98" height="2.98" fill="#a8092c"/>
<rect x="449.91" y="90.01" width="2.98" height="2.98" fill="#a8092c"/>
<rect x="460.01" y="90.01" width="2.98" height="2.98" fill="#a8092c"/>
<rect x="464.71" y="88.01" width="2.98" height="2.98" fill="#a8092c"/>
<rect x="454.71" y="92.71" width="2.98" height="2.98" fill="#a8092c"/>
<rect x="457.31" y="99.51" width="2.98" height="2.98" fill="#a8092c"/>
<rect x="448.61" y="102.11" width="2.98" height="2.98" fill="#a8092c"/>
<rect x="452.01" y="103.51" width="2.98" height="2.98" fill="#a8092c"/>
<rect x="455.31" y="103.51" width="2.98" height="2.98" fill="#a8092c"/>
<rect x="458.71" y="103.51" width="2.98" height="2.98" fill="#a8092c"/>
<rect x="462.01" y="102.81" width="2.98" height="2.98" fill="#a8092c"/>
<rect x="466.11" y="101.51" width="2.98" height="2.98" fill="#a8092c"/>
<rect x="454.01" y="106.81" width="2.98" height="2.98" fill="#a8092c"/>
<rect x="458.01" y="106.21" width="2.98" height="2.98" fill="#a8092c"/>
<rect x="460.71" y="107.51" width="2.98" height="2.98" fill="#a8092c"/>
<rect x="456.01" y="109.51" width="2.98" height="2.98" fill="#a8092c"/>
<rect x="460.01" y="110.21" width="2.98" height="2.98" fill="#a8092c"/>
<rect x="448.61" y="111.51" width="2.98" height="2.98" fill="#a8092c"/>
<rect x="452.01" y="112.91" width="2.98" height="2.98" fill="#a8092c"/>
<rect x="459.41" y="112.21" width="2.98" height="2.98" fill="#a8092c"/>
<rect x="463.41" y="111.81" width="2.98" height="2.98" fill="#a8092c"/>
<rect x="466.11" y="111.51" width="2.98" height="2.98" fill="#a8092c"/>
<rect x="454.71" y="114.91" width="2.98" height="2.98" fill="#a8092c"/>
<rect x="458.01" y="115.31" width="2.98" height="2.98" fill="#a8092c"/>
<path d="M487.1 98.6L488.8 95.54L485.4 95.54Z" fill="#183a6a"/>
<path d="M492.5 99.7L494.2 96.64L490.8 96.64Z" fill="#183a6a"/>
<path d="M481.7 107.4L483.4 104.34L480 104.34Z" fill="#183a6a"/>
<path d="M498.5 106.4L500.2 103.34L496.8 103.34Z" fill="#183a6a"/>
<path d="M493.8 108.7L495.5 105.64L492.1 105.64Z" fill="#183a6a"/>
<path d="M486.4 110.7L488.1 107.64L484.7 107.64Z" fill="#183a6a"/>
<path d="M490.5 110.5L492.2 107.44L488.8 107.44Z" fill="#183a6a"/>
<path d="M482.4 114.1L484.1 111.04L480.7 111.04Z" fill="#183a6a"/>
<path d="M497.9 114.1L499.6 111.04L496.2 111.04Z" fill="#183a6a"/>
<path d="M487.1 118.1L488.8 115.04L485.4 115.04Z" fill="#183a6a"/>
<path d="M489.8 117.2L491.5 114.14L488.1 114.14Z" fill="#183a6a"/>
<circle cx="69.6" cy="226.3" r="1.85" fill="#a8092c"/>
<circle cx="64.5" cy="229.2" r="1.85" fill="#a8092c"/>
<circle cx="72.2" cy="231.6" r="1.85" fill="#a8092c"/>
<circle cx="62.1" cy="234.6" r="1.85" fill="#a8092c"/>
<circle cx="67.5" cy="235.1" r="1.85" fill="#a8092c"/>
<circle cx="85.2" cy="235.7" r="1.85" fill="#a8092c"/>
<circle cx="49.1" cy="239.3" r="1.85" fill="#a8092c"/>
<circle cx="54.5" cy="239.9" r="1.85" fill="#a8092c"/>
<circle cx="59.4" cy="240.5" r="1.85" fill="#a8092c"/>
<circle cx="64.5" cy="240.5" r="1.85" fill="#a8092c"/>
<circle cx="69.6" cy="240.5" r="1.85" fill="#a8092c"/>
<circle cx="74.6" cy="240.5" r="1.85" fill="#a8092c"/>
<circle cx="79.5" cy="239.9" r="1.85" fill="#a8092c"/>
<circle cx="64.5" cy="246.1" r="1.85" fill="#a8092c"/>
<circle cx="69.6" cy="246.4" r="1.85" fill="#a8092c"/>
<circle cx="48" cy="249.9" r="1.85" fill="#a8092c"/>
<circle cx="86.4" cy="249" r="1.85" fill="#a8092c"/>
<circle cx="51.5" cy="251.7" r="1.85" fill="#a8092c"/>
<circle cx="56.2" cy="251.9" r="1.85" fill="#a8092c"/>
<circle cx="61" cy="252" r="1.85" fill="#a8092c"/>
<circle cx="65.7" cy="252.2" r="1.85" fill="#a8092c"/>
<circle cx="70.4" cy="252.2" r="1.85" fill="#a8092c"/>
<circle cx="75.1" cy="252" r="1.85" fill="#a8092c"/>
<circle cx="79.9" cy="251.9" r="1.85" fill="#a8092c"/>
<circle cx="82.8" cy="251.7" r="1.85" fill="#a8092c"/>
<circle cx="52.1" cy="255.2" r="1.85" fill="#a8092c"/>
<circle cx="56.8" cy="256.8" r="1.85" fill="#a8092c"/>
<circle cx="62.1" cy="257" r="1.85" fill="#a8092c"/>
<circle cx="66.9" cy="258.2" r="1.85" fill="#a8092c"/>
<circle cx="72.2" cy="257" r="1.85" fill="#a8092c"/>
<circle cx="76.9" cy="256.1" r="1.85" fill="#a8092c"/>
<circle cx="82.2" cy="254.6" r="1.85" fill="#a8092c"/>
<circle cx="63.9" cy="259.4" r="1.85" fill="#a8092c"/>
<circle cx="51.5" cy="261.1" r="1.85" fill="#a8092c"/>
<circle cx="56.8" cy="262.7" r="1.85" fill="#a8092c"/>
<circle cx="85.2" cy="259.4" r="1.85" fill="#a8092c"/>
<circle cx="79.9" cy="261.5" r="1.85" fill="#a8092c"/>
<circle cx="74.6" cy="261.1" r="1.85" fill="#a8092c"/>
<circle cx="69.8" cy="263.5" r="1.85" fill="#a8092c"/>
<circle cx="64.5" cy="264.7" r="1.85" fill="#a8092c"/>
<circle cx="72.2" cy="265.9" r="1.85" fill="#a8092c"/>
<circle cx="59.8" cy="267.9" r="1.85" fill="#a8092c"/>
<circle cx="62.1" cy="271.4" r="1.85" fill="#a8092c"/>
<circle cx="67.2" cy="269.4" r="1.85" fill="#a8092c"/>
<circle cx="67.5" cy="276.2" r="1.85" fill="#a8092c"/>
<circle cx="72.2" cy="274.5" r="1.85" fill="#a8092c"/>
<rect x="123.45" y="217.15" width="3.5" height="3.5" fill="#183a6a"/>
<rect x="133.55" y="217.15" width="3.5" height="3.5" fill="#183a6a"/>
<rect x="128.35" y="220.55" width="3.5" height="3.5" fill="#183a6a"/>
<rect x="121.05" y="227.25" width="3.5" height="3.5" fill="#183a6a"/>
<rect x="125.55" y="230.65" width="3.5" height="3.5" fill="#183a6a"/>
<rect x="133.55" y="230.35" width="3.5" height="3.5" fill="#183a6a"/>
<rect x="138.85" y="228.65" width="3.5" height="3.5" fill="#183a6a"/>
<rect x="136.35" y="232.45" width="3.5" height="3.5" fill="#183a6a"/>
<rect x="121.05" y="233.85" width="3.5" height="3.5" fill="#183a6a"/>
<rect x="131.05" y="235.15" width="3.5" height="3.5" fill="#183a6a"/>
<rect x="125.55" y="237.45" width="3.5" height="3.5" fill="#183a6a"/>
<rect x="123.45" y="242.95" width="3.5" height="3.5" fill="#183a6a"/>
<rect x="128.35" y="242.95" width="3.5" height="3.5" fill="#183a6a"/>
<rect x="133.55" y="242.65" width="3.5" height="3.5" fill="#183a6a"/>
<rect x="141.25" y="243.95" width="3.5" height="3.5" fill="#183a6a"/>
<rect x="115.85" y="245.65" width="3.5" height="3.5" fill="#183a6a"/>
<rect x="120.85" y="247.35" width="3.5" height="3.5" fill="#183a6a"/>
<rect x="125.85" y="248.95" width="3.5" height="3.5" fill="#183a6a"/>
<rect x="131.05" y="248.15" width="3.5" height="3.5" fill="#183a6a"/>
<rect x="136.35" y="246.65" width="3.5" height="3.5" fill="#183a6a"/>
<rect x="125.55" y="256.75" width="3.5" height="3.5" fill="#183a6a"/>
<rect x="131.05" y="261.25" width="3.5" height="3.5" fill="#183a6a"/>
<rect x="128.35" y="270.85" width="3.5" height="3.5" fill="#183a6a"/>
<circle cx="222.6" cy="240.6" r="1.85" fill="#a8092c"/>
<circle cx="227.6" cy="241.5" r="1.85" fill="#a8092c"/>
<circle cx="232.8" cy="241.5" r="1.85" fill="#a8092c"/>
<circle cx="227.6" cy="246.7" r="1.85" fill="#a8092c"/>
<circle cx="218.9" cy="250.8" r="1.85" fill="#a8092c"/>
<circle cx="221.8" cy="252.1" r="1.85" fill="#a8092c"/>
<circle cx="224.7" cy="252.1" r="1.85" fill="#a8092c"/>
<circle cx="227.6" cy="252.5" r="1.85" fill="#a8092c"/>
<circle cx="230.5" cy="252.1" r="1.85" fill="#a8092c"/>
<circle cx="233.3" cy="251.3" r="1.85" fill="#a8092c"/>
<circle cx="236.8" cy="250.5" r="1.85" fill="#a8092c"/>
<circle cx="219.5" cy="254.2" r="1.85" fill="#a8092c"/>
<circle cx="223" cy="253.6" r="1.85" fill="#a8092c"/>
<circle cx="226.4" cy="254.2" r="1.85" fill="#a8092c"/>
<circle cx="229.9" cy="254.2" r="1.85" fill="#a8092c"/>
<circle cx="233.3" cy="253.6" r="1.85" fill="#a8092c"/>
<circle cx="236.2" cy="254.2" r="1.85" fill="#a8092c"/>
<circle cx="223.5" cy="256.8" r="1.85" fill="#a8092c"/>
<circle cx="227.6" cy="258.6" r="1.85" fill="#a8092c"/>
<circle cx="231.6" cy="256.8" r="1.85" fill="#a8092c"/>
<circle cx="219.5" cy="260.2" r="1.85" fill="#a8092c"/>
<circle cx="235.6" cy="260.6" r="1.85" fill="#a8092c"/>
<circle cx="223.5" cy="262.1" r="1.85" fill="#a8092c"/>
<circle cx="227.6" cy="264.4" r="1.85" fill="#a8092c"/>
<circle cx="232.2" cy="263.7" r="1.85" fill="#a8092c"/>
<circle cx="225.6" cy="268.6" r="1.85" fill="#a8092c"/>
<circle cx="222.6" cy="272.1" r="1.85" fill="#a8092c"/>
<circle cx="230.2" cy="270.6" r="1.85" fill="#a8092c"/>
<circle cx="227.6" cy="277.1" r="1.85" fill="#a8092c"/>
<circle cx="232.8" cy="275.6" r="1.85" fill="#a8092c"/>
<path d="M251.2 245.6L252.9 248.66L249.5 248.66Z" fill="#183a6a"/>
<path d="M257 244.2L258.7 247.26L255.3 247.26Z" fill="#183a6a"/>
<path d="M261.8 244.2L263.5 247.26L260.1 247.26Z" fill="#183a6a"/>
<path d="M268 246.5L269.7 249.56L266.3 249.56Z" fill="#183a6a"/>
<path d="M255.3 248.1L257 251.16L253.6 251.16Z" fill="#183a6a"/>
<path d="M263.3 249.1L265 252.16L261.6 252.16Z" fill="#183a6a"/>
<path d="M259.5 272.1L261.2 275.16L257.8 275.16Z" fill="#183a6a"/>
<rect x="292" y="225.5" width="3.5" height="3.5" fill="#a8092c"/>
<rect x="286.75" y="228" width="3.5" height="3.5" fill="#a8092c"/>
<rect x="294.5" y="230.5" width="3.5" height="3.5" fill="#a8092c"/>
<rect x="281.35" y="234.75" width="3.5" height="3.5" fill="#a8092c"/>
<rect x="284.5" y="234.25" width="3.5" height="3.5" fill="#a8092c"/>
<rect x="289.5" y="233.85" width="3.5" height="3.5" fill="#a8092c"/>
<rect x="285.75" y="238.85" width="3.5" height="3.5" fill="#a8092c"/>
<rect x="289.5" y="239.75" width="3.5" height="3.5" fill="#a8092c"/>
<rect x="293.25" y="240.15" width="3.5" height="3.5" fill="#a8092c"/>
<rect x="298" y="238.25" width="3.5" height="3.5" fill="#a8092c"/>
<rect x="289.5" y="245.5" width="3.5" height="3.5" fill="#a8092c"/>
<rect x="286.75" y="251" width="3.5" height="3.5" fill="#a8092c"/>
<rect x="292" y="251" width="3.5" height="3.5" fill="#a8092c"/>
<rect x="281.75" y="253.5" width="3.5" height="3.5" fill="#a8092c"/>
<rect x="286.75" y="256" width="3.5" height="3.5" fill="#a8092c"/>
<rect x="292" y="257.65" width="3.5" height="3.5" fill="#a8092c"/>
<rect x="299.5" y="255.75" width="3.5" height="3.5" fill="#a8092c"/>
<rect x="281.75" y="259.75" width="3.5" height="3.5" fill="#a8092c"/>
<rect x="296.75" y="260.5" width="3.5" height="3.5" fill="#a8092c"/>
<rect x="286.75" y="265.15" width="3.5" height="3.5" fill="#a8092c"/>
<rect x="292" y="263.25" width="3.5" height="3.5" fill="#a8092c"/>
<path d="M318.1 221.1L319.8 218.04L316.4 218.04Z" fill="#183a6a"/>
<path d="M328.1 221.1L329.8 218.04L326.4 218.04Z" fill="#183a6a"/>
<path d="M323.1 224.2L324.8 221.14L321.4 221.14Z" fill="#183a6a"/>
<path d="M330.6 231.1L332.3 228.04L328.9 228.04Z" fill="#183a6a"/>
<path d="M318.1 233.95L319.8 230.89L316.4 230.89Z" fill="#183a6a"/>
<path d="M320.6 232.95L322.3 229.89L318.9 229.89Z" fill="#183a6a"/>
<path d="M325 234.45L326.7 231.39L323.3 231.39Z" fill="#183a6a"/>
<path d="M315.25 236.45L316.95 233.39L313.55 233.39Z" fill="#183a6a"/>
<path d="M320.6 238.6L322.3 235.54L318.9 235.54Z" fill="#183a6a"/>
<path d="M331.25 237.95L332.95 234.89L329.55 234.89Z" fill="#183a6a"/>
<path d="M325.6 241.45L327.3 238.39L323.9 238.39Z" fill="#183a6a"/>
<path d="M323.1 246.7L324.8 243.64L321.4 243.64Z" fill="#183a6a"/>
<path d="M323.1 252.3L324.8 249.24L321.4 249.24Z" fill="#183a6a"/>
<path d="M323.1 265.2L324.8 262.14L321.4 262.14Z" fill="#183a6a"/>
<circle cx="413.8" cy="218.3" r="1.85" fill="#a8092c"/>
<circle cx="411.4" cy="248.5" r="1.85" fill="#a8092c"/>
<circle cx="416.3" cy="250.1" r="1.85" fill="#a8092c"/>
<circle cx="413.8" cy="259.5" r="1.85" fill="#a8092c"/>
<circle cx="401.6" cy="263.2" r="1.85" fill="#a8092c"/>
<circle cx="408.9" cy="264.4" r="1.85" fill="#a8092c"/>
<circle cx="413.8" cy="265" r="1.85" fill="#a8092c"/>
<circle cx="418.7" cy="263.2" r="1.85" fill="#a8092c"/>
<circle cx="424" cy="261.3" r="1.85" fill="#a8092c"/>
<circle cx="404.1" cy="268.4" r="1.85" fill="#a8092c"/>
<circle cx="408.9" cy="272.6" r="1.85" fill="#a8092c"/>
<circle cx="413.8" cy="273" r="1.85" fill="#a8092c"/>
<circle cx="418.7" cy="272.6" r="1.85" fill="#a8092c"/>
<circle cx="424" cy="270.9" r="1.85" fill="#a8092c"/>
<circle cx="401.6" cy="275" r="1.85" fill="#a8092c"/>
<circle cx="426.1" cy="275.8" r="1.85" fill="#a8092c"/>
<circle cx="406.5" cy="277" r="1.85" fill="#a8092c"/>
<circle cx="411.8" cy="277.8" r="1.85" fill="#a8092c"/>
<circle cx="416.7" cy="278.2" r="1.85" fill="#a8092c"/>
<circle cx="421.5" cy="277.5" r="1.85" fill="#a8092c"/>
<circle cx="395.5" cy="279.4" r="1.85" fill="#a8092c"/>
<circle cx="399.2" cy="280.7" r="1.85" fill="#a8092c"/>
<circle cx="403.2" cy="281.5" r="1.85" fill="#a8092c"/>
<circle cx="407.1" cy="282.1" r="1.85" fill="#a8092c"/>
<circle cx="410.2" cy="283.6" r="1.85" fill="#a8092c"/>
<circle cx="413.8" cy="284" r="1.85" fill="#a8092c"/>
<circle cx="417.5" cy="283.3" r="1.85" fill="#a8092c"/>
<circle cx="421.2" cy="283.1" r="1.85" fill="#a8092c"/>
<circle cx="424.8" cy="280.9" r="1.85" fill="#a8092c"/>
<circle cx="428.5" cy="280.7" r="1.85" fill="#a8092c"/>
<circle cx="432.2" cy="280.3" r="1.85" fill="#a8092c"/>
<circle cx="395.5" cy="286.8" r="1.85" fill="#a8092c"/>
<circle cx="400.4" cy="287.6" r="1.85" fill="#a8092c"/>
<circle cx="404.7" cy="288.8" r="1.85" fill="#a8092c"/>
<circle cx="409.6" cy="289.5" r="1.85" fill="#a8092c"/>
<circle cx="413.8" cy="290.1" r="1.85" fill="#a8092c"/>
<circle cx="418.7" cy="288.8" r="1.85" fill="#a8092c"/>
<circle cx="422.8" cy="287.6" r="1.85" fill="#a8092c"/>
<circle cx="427.7" cy="286.8" r="1.85" fill="#a8092c"/>
<circle cx="432.5" cy="285.2" r="1.85" fill="#a8092c"/>
<circle cx="401.6" cy="292.5" r="1.85" fill="#a8092c"/>
<circle cx="421.5" cy="292.5" r="1.85" fill="#a8092c"/>
<circle cx="426.4" cy="290.9" r="1.85" fill="#a8092c"/>
<circle cx="406.5" cy="295.3" r="1.85" fill="#a8092c"/>
<circle cx="411.4" cy="295.6" r="1.85" fill="#a8092c"/>
<circle cx="416.3" cy="295.6" r="1.85" fill="#a8092c"/>
<rect x="473.85" y="268.05" width="3.5" height="3.5" fill="#183a6a"/>
<rect x="463.55" y="276.75" width="3.5" height="3.5" fill="#183a6a"/>
<rect x="468.35" y="278.15" width="3.5" height="3.5" fill="#183a6a"/>
<rect x="473.65" y="279.75" width="3.5" height="3.5" fill="#183a6a"/>
<rect x="478.95" y="279.75" width="3.5" height="3.5" fill="#183a6a"/>
<rect x="484.25" y="277.75" width="3.5" height="3.5" fill="#183a6a"/>
<rect x="455.65" y="281.85" width="3.5" height="3.5" fill="#183a6a"/>
<rect x="492.65" y="281.25" width="3.5" height="3.5" fill="#183a6a"/>
<rect x="487.95" y="282.35" width="3.5" height="3.5" fill="#183a6a"/>
<rect x="459.85" y="285.55" width="3.5" height="3.5" fill="#183a6a"/>
<rect x="464.65" y="286.25" width="3.5" height="3.5" fill="#183a6a"/>
<rect x="469.95" y="286.25" width="3.5" height="3.5" fill="#183a6a"/>
<rect x="474.15" y="286.25" width="3.5" height="3.5" fill="#183a6a"/>
<rect x="478.95" y="286.05" width="3.5" height="3.5" fill="#183a6a"/>
<rect x="483.15" y="285.55" width="3.5" height="3.5" fill="#183a6a"/>
<rect x="456.15" y="288.25" width="3.5" height="3.5" fill="#183a6a"/>
<rect x="461.45" y="289.45" width="3.5" height="3.5" fill="#183a6a"/>
<rect x="486.85" y="288.75" width="3.5" height="3.5" fill="#183a6a"/>
<rect x="491.65" y="288.25" width="3.5" height="3.5" fill="#183a6a"/>
<rect x="465.75" y="291.85" width="3.5" height="3.5" fill="#183a6a"/>
<rect x="469.95" y="292.15" width="3.5" height="3.5" fill="#183a6a"/>
<rect x="474.15" y="292.15" width="3.5" height="3.5" fill="#183a6a"/>
<rect x="478.95" y="292.15" width="3.5" height="3.5" fill="#183a6a"/>
<rect x="482.15" y="291.55" width="3.5" height="3.5" fill="#183a6a"/>
<circle cx="70.8" cy="405.8" r="1.85" fill="#a8092c"/>
<circle cx="58.1" cy="414.4" r="1.85" fill="#a8092c"/>
<circle cx="63.3" cy="414.8" r="1.85" fill="#a8092c"/>
<circle cx="68.3" cy="415.1" r="1.85" fill="#a8092c"/>
<circle cx="73.4" cy="415.1" r="1.85" fill="#a8092c"/>
<circle cx="78.6" cy="414.8" r="1.85" fill="#a8092c"/>
<circle cx="83.7" cy="412.8" r="1.85" fill="#a8092c"/>
<circle cx="65.9" cy="423.8" r="1.85" fill="#a8092c"/>
<circle cx="70.8" cy="423.8" r="1.85" fill="#a8092c"/>
<circle cx="76.1" cy="423.3" r="1.85" fill="#a8092c"/>
<circle cx="63" cy="430.9" r="1.85" fill="#a8092c"/>
<circle cx="73.7" cy="430.9" r="1.85" fill="#a8092c"/>
<circle cx="78.6" cy="429" r="1.85" fill="#a8092c"/>
<circle cx="68.3" cy="433.1" r="1.85" fill="#a8092c"/>
<circle cx="58.1" cy="434.8" r="1.85" fill="#a8092c"/>
<circle cx="83.7" cy="435.2" r="1.85" fill="#a8092c"/>
<circle cx="63.3" cy="436.8" r="1.85" fill="#a8092c"/>
<circle cx="68.3" cy="438" r="1.85" fill="#a8092c"/>
<circle cx="73.2" cy="438.2" r="1.85" fill="#a8092c"/>
<circle cx="78.6" cy="437.5" r="1.85" fill="#a8092c"/>
<circle cx="52.3" cy="439.4" r="1.85" fill="#a8092c"/>
<circle cx="56.7" cy="439.9" r="1.85" fill="#a8092c"/>
<circle cx="60.1" cy="441.8" r="1.85" fill="#a8092c"/>
<circle cx="63.5" cy="442.3" r="1.85" fill="#a8092c"/>
<circle cx="66.9" cy="442.8" r="1.85" fill="#a8092c"/>
<circle cx="70.3" cy="443.3" r="1.85" fill="#a8092c"/>
<circle cx="73.7" cy="443.8" r="1.85" fill="#a8092c"/>
<circle cx="77.1" cy="442.8" r="1.85" fill="#a8092c"/>
<circle cx="80.5" cy="441.8" r="1.85" fill="#a8092c"/>
<circle cx="84.9" cy="441.3" r="1.85" fill="#a8092c"/>
<circle cx="89.8" cy="439.4" r="1.85" fill="#a8092c"/>
<circle cx="52.3" cy="445.9" r="1.85" fill="#a8092c"/>
<circle cx="56.7" cy="446.9" r="1.85" fill="#a8092c"/>
<circle cx="61.5" cy="447.9" r="1.85" fill="#a8092c"/>
<circle cx="80.5" cy="447.2" r="1.85" fill="#a8092c"/>
<circle cx="84.9" cy="446.5" r="1.85" fill="#a8092c"/>
<circle cx="89.8" cy="445.9" r="1.85" fill="#a8092c"/>
<circle cx="65.9" cy="450.1" r="1.85" fill="#a8092c"/>
<circle cx="70.8" cy="450.1" r="1.85" fill="#a8092c"/>
<circle cx="75.6" cy="449.1" r="1.85" fill="#a8092c"/>
<circle cx="63.3" cy="453.7" r="1.85" fill="#a8092c"/>
<circle cx="78.6" cy="453" r="1.85" fill="#a8092c"/>
<circle cx="68.3" cy="456.4" r="1.85" fill="#a8092c"/>
<circle cx="73.2" cy="456.2" r="1.85" fill="#a8092c"/>
<rect x="133.25" y="406.95" width="3.5" height="3.5" fill="#183a6a"/>
<rect x="130.35" y="410.25" width="3.5" height="3.5" fill="#183a6a"/>
<rect x="135.65" y="412.45" width="3.5" height="3.5" fill="#183a6a"/>
<rect x="127.95" y="415.75" width="3.5" height="3.5" fill="#183a6a"/>
<rect x="132.75" y="418.45" width="3.5" height="3.5" fill="#183a6a"/>
<rect x="138.25" y="416.75" width="3.5" height="3.5" fill="#183a6a"/>
<rect x="130.15" y="423.75" width="3.5" height="3.5" fill="#183a6a"/>
<rect x="138.05" y="425.35" width="3.5" height="3.5" fill="#183a6a"/>
<rect x="135.65" y="429.75" width="3.5" height="3.5" fill="#183a6a"/>
<rect x="130.35" y="432.35" width="3.5" height="3.5" fill="#183a6a"/>
<rect x="122.45" y="434.95" width="3.5" height="3.5" fill="#183a6a"/>
<rect x="127.45" y="435.75" width="3.5" height="3.5" fill="#183a6a"/>
<rect x="132.25" y="434.95" width="3.5" height="3.5" fill="#183a6a"/>
<rect x="138.05" y="435.25" width="3.5" height="3.5" fill="#183a6a"/>
<rect x="143.05" y="434.55" width="3.5" height="3.5" fill="#183a6a"/>
<rect x="132.75" y="439.15" width="3.5" height="3.5" fill="#183a6a"/>
<rect x="119.75" y="442.65" width="3.5" height="3.5" fill="#183a6a"/>
<rect x="125.05" y="445.35" width="3.5" height="3.5" fill="#183a6a"/>
<rect x="130.35" y="446.85" width="3.5" height="3.5" fill="#183a6a"/>
<rect x="135.65" y="445.85" width="3.5" height="3.5" fill="#183a6a"/>
<rect x="140.95" y="444.85" width="3.5" height="3.5" fill="#183a6a"/>
<rect x="145.95" y="442.25" width="3.5" height="3.5" fill="#183a6a"/>
<circle cx="231.1" cy="407.5" r="1.85" fill="#a8092c"/>
<circle cx="228.6" cy="416.1" r="1.85" fill="#a8092c"/>
<circle cx="233.7" cy="416.1" r="1.85" fill="#a8092c"/>
<circle cx="228.6" cy="424.8" r="1.85" fill="#a8092c"/>
<circle cx="233.7" cy="424.8" r="1.85" fill="#a8092c"/>
<circle cx="226" cy="430.2" r="1.85" fill="#a8092c"/>
<circle cx="236.3" cy="431.4" r="1.85" fill="#a8092c"/>
<circle cx="231.1" cy="434" r="1.85" fill="#a8092c"/>
<circle cx="228.6" cy="437.5" r="1.85" fill="#a8092c"/>
<circle cx="233.5" cy="439.2" r="1.85" fill="#a8092c"/>
<circle cx="222.2" cy="440.1" r="1.85" fill="#a8092c"/>
<circle cx="239.8" cy="440.1" r="1.85" fill="#a8092c"/>
<circle cx="225.6" cy="442.9" r="1.85" fill="#a8092c"/>
<circle cx="236.3" cy="442.9" r="1.85" fill="#a8092c"/>
<circle cx="232.3" cy="443.6" r="1.85" fill="#a8092c"/>
<circle cx="229.4" cy="445.2" r="1.85" fill="#a8092c"/>
<circle cx="222.8" cy="447.5" r="1.85" fill="#a8092c"/>
<circle cx="239" cy="447.1" r="1.85" fill="#a8092c"/>
<circle cx="227.1" cy="450.2" r="1.85" fill="#a8092c"/>
<circle cx="231.1" cy="450.5" r="1.85" fill="#a8092c"/>
<circle cx="235.2" cy="449.6" r="1.85" fill="#a8092c"/>
<circle cx="233.2" cy="454" r="1.85" fill="#a8092c"/>
<circle cx="228.6" cy="456.7" r="1.85" fill="#a8092c"/>
<rect x="260.12" y="419.43" width="3.15" height="3.15" fill="#183a6a"/>
<rect x="256.43" y="424.73" width="3.15" height="3.15" fill="#183a6a"/>
<rect x="260.43" y="424.73" width="3.15" height="3.15" fill="#183a6a"/>
<rect x="264.43" y="424.93" width="3.15" height="3.15" fill="#183a6a"/>
<rect x="257.82" y="426.73" width="3.15" height="3.15" fill="#183a6a"/>
<rect x="262.43" y="426.73" width="3.15" height="3.15" fill="#183a6a"/>
<rect x="254.43" y="435.93" width="3.15" height="3.15" fill="#183a6a"/>
<rect x="257.82" y="436.53" width="3.15" height="3.15" fill="#183a6a"/>
<rect x="260.12" y="435.93" width="3.15" height="3.15" fill="#183a6a"/>
<rect x="262.43" y="436.32" width="3.15" height="3.15" fill="#183a6a"/>
<rect x="265.43" y="435.53" width="3.15" height="3.15" fill="#183a6a"/>
<rect x="257.82" y="445.73" width="3.15" height="3.15" fill="#183a6a"/>
<rect x="263.03" y="445.53" width="3.15" height="3.15" fill="#183a6a"/>
<path d="M285.6 413.05L287.3 416.11L283.9 416.11Z" fill="#a8092c"/>
<path d="M290.6 414.8L292.3 417.86L288.9 417.86Z" fill="#a8092c"/>
<path d="M295.6 414.8L297.3 417.86L293.9 417.86Z" fill="#a8092c"/>
<path d="M300.6 413.9L302.3 416.96L298.9 416.96Z" fill="#a8092c"/>
<path d="M293.1 424.3L294.8 427.36L291.4 427.36Z" fill="#a8092c"/>
<path d="M298.1 430.8L299.8 433.86L296.4 433.86Z" fill="#a8092c"/>
<path d="M288.1 434.55L289.8 437.61L286.4 437.61Z" fill="#a8092c"/>
<path d="M293.1 435.55L294.8 438.61L291.4 438.61Z" fill="#a8092c"/>
<path d="M285 438.05L286.7 441.11L283.3 441.11Z" fill="#a8092c"/>
<path d="M288.75 439.55L290.45 442.61L287.05 442.61Z" fill="#a8092c"/>
<path d="M296.9 440.8L298.6 443.86L295.2 443.86Z" fill="#a8092c"/>
<path d="M301.25 438.05L302.95 441.11L299.55 441.11Z" fill="#a8092c"/>
<path d="M284.4 442.7L286.1 445.76L282.7 445.76Z" fill="#a8092c"/>
<path d="M293.1 441.8L294.8 444.86L291.4 444.86Z" fill="#a8092c"/>
<path d="M301.9 443.05L303.6 446.11L300.2 446.11Z" fill="#a8092c"/>
<path d="M288.1 445.8L289.8 448.86L286.4 448.86Z" fill="#a8092c"/>
<path d="M291.25 446.4L292.95 449.46L289.55 449.46Z" fill="#a8092c"/>
<path d="M294.4 447.05L296.1 450.11L292.7 450.11Z" fill="#a8092c"/>
<path d="M298.1 445.8L299.8 448.86L296.4 448.86Z" fill="#a8092c"/>
<path d="M295 452.7L296.7 455.76L293.3 455.76Z" fill="#a8092c"/>
<path d="M290.6 455.55L292.3 458.61L288.9 458.61Z" fill="#a8092c"/>
<path d="M326.25 411.1L327.95 408.04L324.55 408.04Z" fill="#183a6a"/>
<path d="M321.5 414.45L323.2 411.39L319.8 411.39Z" fill="#183a6a"/>
<path d="M329 416.45L330.7 413.39L327.3 413.39Z" fill="#183a6a"/>
<path d="M318.75 420.2L320.45 417.14L317.05 417.14Z" fill="#183a6a"/>
<path d="M323.75 420.45L325.45 417.39L322.05 417.39Z" fill="#183a6a"/>
<path d="M326.9 434.45L328.6 431.39L325.2 431.39Z" fill="#183a6a"/>
<path d="M319.4 436.1L321.1 433.04L317.7 433.04Z" fill="#183a6a"/>
<path d="M321.9 438.6L323.6 435.54L320.2 435.54Z" fill="#183a6a"/>
<path d="M326.9 441.95L328.6 438.89L325.2 438.89Z" fill="#183a6a"/>
<path d="M316.25 446.1L317.95 443.04L314.55 443.04Z" fill="#183a6a"/>
<path d="M331.25 445.2L332.95 442.14L329.55 442.14Z" fill="#183a6a"/>
<path d="M321.9 450.2L323.6 447.14L320.2 447.14Z" fill="#183a6a"/>
<path d="M326.25 448.95L327.95 445.89L324.55 445.89Z" fill="#183a6a"/>
<circle cx="464.2" cy="407.7" r="1.76" fill="#a8092c"/>
<circle cx="433.1" cy="416.2" r="1.76" fill="#a8092c"/>
<circle cx="438.8" cy="415.9" r="1.76" fill="#a8092c"/>
<circle cx="447" cy="416.2" r="1.76" fill="#a8092c"/>
<circle cx="454.8" cy="416.7" r="1.76" fill="#a8092c"/>
<circle cx="470.4" cy="414.9" r="1.76" fill="#a8092c"/>
<circle cx="435.7" cy="425.2" r="1.76" fill="#a8092c"/>
<circle cx="455.3" cy="425.6" r="1.76" fill="#a8092c"/>
<circle cx="471.2" cy="425.6" r="1.76" fill="#a8092c"/>
<circle cx="413.5" cy="430.6" r="1.76" fill="#a8092c"/>
<circle cx="446.7" cy="432.3" r="1.76" fill="#a8092c"/>
<circle cx="442.1" cy="434.2" r="1.76" fill="#a8092c"/>
<circle cx="480.2" cy="432.3" r="1.76" fill="#a8092c"/>
<circle cx="483.8" cy="436.7" r="1.76" fill="#a8092c"/>
<circle cx="462.5" cy="436.2" r="1.76" fill="#a8092c"/>
<circle cx="463" cy="439.1" r="1.76" fill="#a8092c"/>
<circle cx="465.1" cy="439.4" r="1.76" fill="#a8092c"/>
<circle cx="463" cy="441.1" r="1.76" fill="#a8092c"/>
<circle cx="476.4" cy="439.4" r="1.76" fill="#a8092c"/>
<circle cx="420.5" cy="443.2" r="1.76" fill="#a8092c"/>
<circle cx="427.9" cy="444" r="1.76" fill="#a8092c"/>
<circle cx="430.3" cy="443.2" r="1.76" fill="#a8092c"/>
<circle cx="433.1" cy="444" r="1.76" fill="#a8092c"/>
<circle cx="438.8" cy="441.1" r="1.76" fill="#a8092c"/>
<circle cx="440.1" cy="443.2" r="1.76" fill="#a8092c"/>
<circle cx="442.9" cy="443.2" r="1.76" fill="#a8092c"/>
<circle cx="445.8" cy="439.9" r="1.76" fill="#a8092c"/>
<circle cx="447.8" cy="441.1" r="1.76" fill="#a8092c"/>
<circle cx="450.4" cy="444.8" r="1.76" fill="#a8092c"/>
<circle cx="435.7" cy="447.3" r="1.76" fill="#a8092c"/>
<circle cx="437.7" cy="449.7" r="1.76" fill="#a8092c"/>
<circle cx="447.2" cy="447" r="1.76" fill="#a8092c"/>
<circle cx="449.1" cy="448.1" r="1.76" fill="#a8092c"/>
<circle cx="429.2" cy="451.4" r="1.76" fill="#a8092c"/>
<circle cx="433.1" cy="451.4" r="1.76" fill="#a8092c"/>
<circle cx="462.5" cy="448.9" r="1.76" fill="#a8092c"/>
<circle cx="464.2" cy="447.3" r="1.76" fill="#a8092c"/>
<circle cx="425.9" cy="454.2" r="1.76" fill="#a8092c"/>
<circle cx="443.9" cy="454.2" r="1.76" fill="#a8092c"/>
<circle cx="418.4" cy="457.4" r="1.76" fill="#a8092c"/>
<circle cx="471.2" cy="457.1" r="1.76" fill="#a8092c"/>
<circle cx="54.7" cy="586.5" r="2" fill="#a8092c"/>
<circle cx="59.6" cy="586.5" r="2" fill="#a8092c"/>
<circle cx="49.6" cy="599.3" r="2" fill="#a8092c"/>
<circle cx="67.3" cy="599.3" r="2" fill="#a8092c"/>
<circle cx="54.7" cy="603.9" r="2" fill="#a8092c"/>
<circle cx="62.4" cy="603.9" r="2" fill="#a8092c"/>
<circle cx="49.6" cy="608.1" r="2" fill="#a8092c"/>
<circle cx="59.6" cy="608.1" r="2" fill="#a8092c"/>
<circle cx="65" cy="608.1" r="2" fill="#a8092c"/>
<circle cx="54.7" cy="611.9" r="2" fill="#a8092c"/>
<circle cx="57.3" cy="620.4" r="2" fill="#a8092c"/>
<circle cx="52.2" cy="625.5" r="2" fill="#a8092c"/>
<circle cx="57.3" cy="629.6" r="2" fill="#a8092c"/>
<circle cx="62.4" cy="629.6" r="2" fill="#a8092c"/>
<circle cx="67.3" cy="633.8" r="2" fill="#a8092c"/>
<circle cx="49.6" cy="637.8" r="2" fill="#a8092c"/>
<circle cx="54.7" cy="637.8" r="2" fill="#a8092c"/>
<circle cx="57.3" cy="637.8" r="2" fill="#a8092c"/>
<circle cx="62.4" cy="637.8" r="2" fill="#a8092c"/>
<circle cx="52.2" cy="641.9" r="2" fill="#a8092c"/>
<circle cx="57.3" cy="646.1" r="2" fill="#a8092c"/>
<circle cx="62.4" cy="646.1" r="2" fill="#a8092c"/>
<rect x="97.38" y="579.98" width="3.85" height="3.85" fill="#a8092c"/>
<rect x="89.98" y="593.08" width="3.85" height="3.85" fill="#a8092c"/>
<rect x="105.08" y="593.08" width="3.85" height="3.85" fill="#a8092c"/>
<rect x="94.88" y="597.38" width="3.85" height="3.85" fill="#a8092c"/>
<rect x="99.98" y="597.38" width="3.85" height="3.85" fill="#a8092c"/>
<rect x="97.38" y="610.28" width="3.85" height="3.85" fill="#a8092c"/>
<rect x="94.88" y="614.28" width="3.85" height="3.85" fill="#a8092c"/>
<rect x="102.58" y="618.48" width="3.85" height="3.85" fill="#a8092c"/>
<rect x="99.98" y="622.58" width="3.85" height="3.85" fill="#a8092c"/>
<rect x="92.28" y="626.58" width="3.85" height="3.85" fill="#a8092c"/>
<rect x="94.88" y="631.28" width="3.85" height="3.85" fill="#a8092c"/>
<rect x="99.98" y="635.38" width="3.85" height="3.85" fill="#a8092c"/>
<rect x="86.88" y="639.58" width="3.85" height="3.85" fill="#a8092c"/>
<rect x="107.67" y="639.58" width="3.85" height="3.85" fill="#a8092c"/>
<rect x="92.28" y="644.18" width="3.85" height="3.85" fill="#a8092c"/>
<rect x="97.38" y="644.18" width="3.85" height="3.85" fill="#a8092c"/>
<rect x="102.58" y="644.18" width="3.85" height="3.85" fill="#a8092c"/>
<path d="M141.4 589.3L143.2 592.54L139.6 592.54Z" fill="#a8092c"/>
<path d="M138.8 598L140.6 601.24L137 601.24Z" fill="#a8092c"/>
<path d="M144 598L145.8 601.24L142.2 601.24Z" fill="#a8092c"/>
<path d="M144 606.4L145.8 609.64L142.2 609.64Z" fill="#a8092c"/>
<path d="M138.8 610.7L140.6 613.94L137 613.94Z" fill="#a8092c"/>
<path d="M131.3 632.3L133.1 635.54L129.5 635.54Z" fill="#a8092c"/>
<path d="M151.8 632L153.6 635.24L150 635.24Z" fill="#a8092c"/>
<path d="M136.5 636.1L138.3 639.34L134.7 639.34Z" fill="#a8092c"/>
<path d="M141.4 636.1L143.2 639.34L139.6 639.34Z" fill="#a8092c"/>
<path d="M146.3 636.1L148.1 639.34L144.5 639.34Z" fill="#a8092c"/>
<path d="M129.8 640.1L131.6 643.34L128 643.34Z" fill="#a8092c"/>
<path d="M153.3 640.3L155.1 643.54L151.5 643.54Z" fill="#a8092c"/>
<path d="M134.2 644.7L136 647.94L132.4 647.94Z" fill="#a8092c"/>
<path d="M138.3 644.7L140.1 647.94L136.5 647.94Z" fill="#a8092c"/>
<path d="M142.9 644.7L144.7 647.94L141.1 647.94Z" fill="#a8092c"/>
<path d="M146.9 644.7L148.7 647.94L145.1 647.94Z" fill="#a8092c"/>
<circle cx="222" cy="594.7" r="2" fill="#a8092c"/>
<circle cx="222" cy="605.6" r="2" fill="#a8092c"/>
<rect x="241.06" y="592.96" width="3.68" height="3.68" fill="#a8092c"/>
<rect x="241.06" y="598.46" width="3.68" height="3.68" fill="#a8092c"/>
<rect x="241.06" y="637.66" width="3.68" height="3.68" fill="#a8092c"/>
<path d="M261.25 587.5L263.25 591.1L259.25 591.1Z" fill="#a8092c"/>
<path d="M266.25 587.5L268.25 591.1L264.25 591.1Z" fill="#a8092c"/>
<path d="M261.25 598L263.25 601.6L259.25 601.6Z" fill="#a8092c"/>
<path d="M266.25 598L268.25 601.6L264.25 601.6Z" fill="#a8092c"/>
<path d="M263.75 626L265.75 629.6L261.75 629.6Z" fill="#a8092c"/>
<path d="M263.75 637.5L265.75 641.1L261.75 641.1Z" fill="#a8092c"/>
<path d="M284.5 573.25L286.5 569.65L282.5 569.65Z" fill="#a8092c"/>
<path d="M284.5 618.25L286.5 614.65L282.5 614.65Z" fill="#a8092c"/>
<path d="M284.5 624L286.5 620.4L282.5 620.4Z" fill="#a8092c"/>
<path d="M282 640.75L284 637.15L280 637.15Z" fill="#a8092c"/>
<path d="M287.5 640.75L289.5 637.15L285.5 637.15Z" fill="#a8092c"/>
<path d="M282 651.5L284 647.9L280 647.9Z" fill="#a8092c"/>
<path d="M287.5 651.5L289.5 647.9L285.5 647.9Z" fill="#a8092c"/>
<path d="M305.5 625.8L307.7 628L305.5 630.2L303.3 628Z" fill="#a8092c"/>
<circle cx="326.8" cy="572.5" r="1.75" fill="none" stroke="#a8092c" stroke-width="1.3"/>
<circle cx="326.8" cy="578" r="1.75" fill="none" stroke="#a8092c" stroke-width="1.3"/>
<circle cx="326.8" cy="633.9" r="1.75" fill="none" stroke="#a8092c" stroke-width="1.3"/>
<circle cx="389.5" cy="611.75" r="1.85" fill="#a8092c"/>
<circle cx="394.5" cy="616.25" r="1.85" fill="#a8092c"/>
<circle cx="391.25" cy="628" r="1.85" fill="#a8092c"/>
<circle cx="389.5" cy="632.5" r="1.85" fill="#a8092c"/>
<circle cx="394.5" cy="637" r="1.85" fill="#a8092c"/>
<circle cx="391.25" cy="645" r="1.85" fill="#a8092c"/>
<rect x="408.25" y="597" width="3.5" height="3.5" fill="#a8092c"/>
<rect x="413.25" y="601.5" width="3.5" height="3.5" fill="#a8092c"/>
<rect x="413.25" y="610" width="3.5" height="3.5" fill="#a8092c"/>
<rect x="408.25" y="613.75" width="3.5" height="3.5" fill="#a8092c"/>
<rect x="410.75" y="639.5" width="3.5" height="3.5" fill="#a8092c"/>
<rect x="406.25" y="643.25" width="3.5" height="3.5" fill="#a8092c"/>
<rect x="408.25" y="647" width="3.5" height="3.5" fill="#a8092c"/>
<rect x="412" y="647" width="3.5" height="3.5" fill="#a8092c"/>
<rect x="415.75" y="647" width="3.5" height="3.5" fill="#a8092c"/>
<path d="M433.75 584.35L435.65 587.77L431.85 587.77Z" fill="#a8092c"/>
<path d="M433.75 601.35L435.65 604.77L431.85 604.77Z" fill="#a8092c"/>
<path d="M428.75 635.1L430.65 638.52L426.85 638.52Z" fill="#a8092c"/>
<path d="M431.25 639.35L433.15 642.77L429.35 642.77Z" fill="#a8092c"/>
<path d="M435 639.35L436.9 642.77L433.1 642.77Z" fill="#a8092c"/>
<path d="M439.25 639.35L441.15 642.77L437.35 642.77Z" fill="#a8092c"/>
<path d="M436.25 643.6L438.15 647.02L434.35 647.02Z" fill="#a8092c"/>
<path d="M431.25 647.6L433.15 651.02L429.35 651.02Z" fill="#a8092c"/>
<path d="M454.5 604.4L456.4 600.98L452.6 600.98Z" fill="#a8092c"/>
<path d="M457.5 646.9L459.4 643.48L455.6 643.48Z" fill="#a8092c"/>
<path d="M452.5 651.4L454.4 647.98L450.6 647.98Z" fill="#a8092c"/>
<path d="M475.5 622.3L477.7 624.5L475.5 626.7L473.3 624.5Z" fill="#a8092c"/>
<path d="M475.5 634.8L477.7 637L475.5 639.2L473.3 637Z" fill="#a8092c"/>
<circle cx="496.6" cy="598.9" r="1.75" fill="none" stroke="#a8092c" stroke-width="1.3"/>
</svg>
</body></html>
